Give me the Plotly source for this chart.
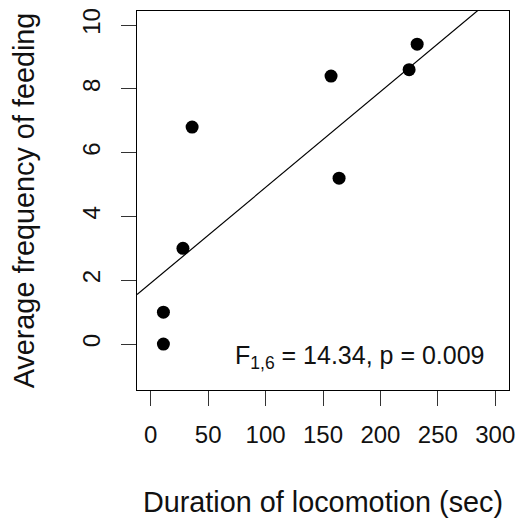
import plotly.graph_objects as go

duration = [11, 11, 28, 36, 157, 164, 225, 232]
feeding = [0.0, 1.0, 3.0, 6.8, 8.4, 5.2, 8.6, 9.4]
fit_intercept = 1.91
fit_slope = 0.0300
x_ticks = [0, 50, 100, 150, 200, 250, 300]
y_ticks = [0, 2, 4, 6, 8, 10]
xlim = (0, 300)
ylim = (-1, 10)

def ext(lo, hi):
    d = 0.04 * (hi - lo)
    return [lo - d, hi + d]

xr = ext(*xlim)
yr = ext(*ylim)
FONT = "Liberation Sans, Arial, sans-serif"
TXT = "#111"

fig = go.Figure()
fig.add_trace(go.Scatter(
    x=xr, y=[fit_intercept + fit_slope * v for v in xr],
    mode="lines", line=dict(color="black", width=1.2), showlegend=False, hoverinfo="skip"))
fig.add_trace(go.Scatter(
    x=duration, y=feeding, mode="markers",
    marker=dict(color="black", size=13), showlegend=False))

fig.add_annotation(x=292.4, y=-0.42, xref="x", yref="y", xanchor="right", yanchor="middle",
                   text="F<sub>1,6</sub> = 14.34, p = 0.009", showarrow=False,
                   font=dict(family=FONT, size=25, color=TXT))

axis_common = dict(showgrid=False, zeroline=False, showline=True, linecolor="black", linewidth=1.3,
                   mirror=True, ticks="outside", ticklen=15, tickwidth=1.2, tickcolor="#333")
fig.update_xaxes(range=xr, tickvals=x_ticks, ticktext=[str(v) for v in x_ticks],
                 tickfont=dict(family=FONT, size=24, color=TXT),
                 title=dict(text="Duration of locomotion (sec)", font=dict(family=FONT, size=28.8, color=TXT), standoff=44),
                 ticklabelstandoff=8, **axis_common)
fig.update_yaxes(range=yr, tickvals=y_ticks, ticktext=[str(v) for v in y_ticks], tickangle=-90,
                 tickfont=dict(family=FONT, size=24, color=TXT),
                 title=dict(text="Average frequency of feeding", font=dict(family=FONT, size=28.8, color=TXT), standoff=35),
                 ticklabelstandoff=11, **axis_common)
fig.update_layout(width=522, height=519, margin=dict(l=137, r=13, t=11, b=129, autoexpand=False),
                  plot_bgcolor="white", paper_bgcolor="white")
fig.write_html("out.html")
